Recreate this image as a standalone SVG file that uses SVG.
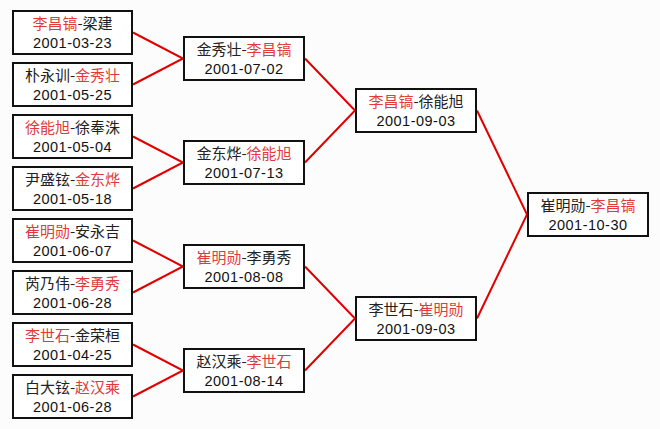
<svg xmlns="http://www.w3.org/2000/svg" width="660" height="429" viewBox="0 0 660 429">
<style>
.bg{fill:#fcfcfc}
.box{fill:#ffffff;stroke:#111111;stroke-width:2}
.nm{font-family:"Noto Sans CJK SC","Liberation Sans",sans-serif;font-size:15px;fill:#222222;text-anchor:middle}
.dt{font-family:"Liberation Sans","Noto Sans CJK SC",sans-serif;font-size:14.5px;letter-spacing:0.5px;fill:#111111;text-anchor:middle}
.r{fill:#e23a3a}
.ln{stroke:#e00000;stroke-width:2;fill:none}
</style>
<rect class="bg" x="0" y="0" width="660" height="429"/>
<g id="connectors">
<path class="ln" d="M133,32.5 L183,58.5 L133,84.5"/>
<path class="ln" d="M133,136.5 L183,162.5 L133,188.5"/>
<path class="ln" d="M133,240.5 L183,266.5 L133,292.5"/>
<path class="ln" d="M133,344.5 L183,370.5 L133,396.5"/>
<path class="ln" d="M305,58.5 L355,110.5 L305,162.5"/>
<path class="ln" d="M305,266.5 L355,318.5 L305,370.5"/>
<path class="ln" d="M477,110.5 L527,214.5 L477,318.5"/>
</g>
<g id="n1"><rect class="box" x="13" y="11" width="119" height="43"/><text class="nm" x="72.5" y="29"><tspan class="r">李昌镐</tspan>-梁建</text><text class="dt" x="72.5" y="48">2001-03-23</text></g>
<g id="n2"><rect class="box" x="13" y="63" width="119" height="43"/><text class="nm" x="72.5" y="81">朴永训-<tspan class="r">金秀壮</tspan></text><text class="dt" x="72.5" y="100">2001-05-25</text></g>
<g id="n3"><rect class="box" x="13" y="115" width="119" height="43"/><text class="nm" x="72.5" y="133"><tspan class="r">徐能旭</tspan>-徐奉洙</text><text class="dt" x="72.5" y="152">2001-05-04</text></g>
<g id="n4"><rect class="box" x="13" y="167" width="119" height="43"/><text class="nm" x="72.5" y="185">尹盛铉-<tspan class="r">金东烨</tspan></text><text class="dt" x="72.5" y="204">2001-05-18</text></g>
<g id="n5"><rect class="box" x="13" y="219" width="119" height="43"/><text class="nm" x="72.5" y="237"><tspan class="r">崔明勋</tspan>-安永吉</text><text class="dt" x="72.5" y="256">2001-06-07</text></g>
<g id="n6"><rect class="box" x="13" y="271" width="119" height="43"/><text class="nm" x="72.5" y="289">芮乃伟-<tspan class="r">李勇秀</tspan></text><text class="dt" x="72.5" y="308">2001-06-28</text></g>
<g id="n7"><rect class="box" x="13" y="323" width="119" height="43"/><text class="nm" x="72.5" y="341"><tspan class="r">李世石</tspan>-金荣桓</text><text class="dt" x="72.5" y="360">2001-04-25</text></g>
<g id="n8"><rect class="box" x="13" y="375" width="119" height="43"/><text class="nm" x="72.5" y="393">白大铉-<tspan class="r">赵汉乘</tspan></text><text class="dt" x="72.5" y="412">2001-06-28</text></g>
<g id="n9"><rect class="box" x="184" y="37" width="120" height="43"/><text class="nm" x="244" y="55">金秀壮-<tspan class="r">李昌镐</tspan></text><text class="dt" x="244" y="74">2001-07-02</text></g>
<g id="n10"><rect class="box" x="184" y="141" width="120" height="43"/><text class="nm" x="244" y="159">金东烨-<tspan class="r">徐能旭</tspan></text><text class="dt" x="244" y="178">2001-07-13</text></g>
<g id="n11"><rect class="box" x="184" y="245" width="120" height="43"/><text class="nm" x="244" y="263"><tspan class="r">崔明勋</tspan>-李勇秀</text><text class="dt" x="244" y="282">2001-08-08</text></g>
<g id="n12"><rect class="box" x="184" y="349" width="120" height="43"/><text class="nm" x="244" y="367">赵汉乘-<tspan class="r">李世石</tspan></text><text class="dt" x="244" y="386">2001-08-14</text></g>
<g id="n13"><rect class="box" x="356" y="89" width="120" height="43"/><text class="nm" x="416" y="107"><tspan class="r">李昌镐</tspan>-徐能旭</text><text class="dt" x="416" y="126">2001-09-03</text></g>
<g id="n14"><rect class="box" x="356" y="297" width="120" height="43"/><text class="nm" x="416" y="315">李世石-<tspan class="r">崔明勋</tspan></text><text class="dt" x="416" y="334">2001-09-03</text></g>
<g id="n15"><rect class="box" x="528" y="193" width="120" height="43"/><text class="nm" x="588" y="211">崔明勋-<tspan class="r">李昌镐</tspan></text><text class="dt" x="588" y="230">2001-10-30</text></g>
</svg>
